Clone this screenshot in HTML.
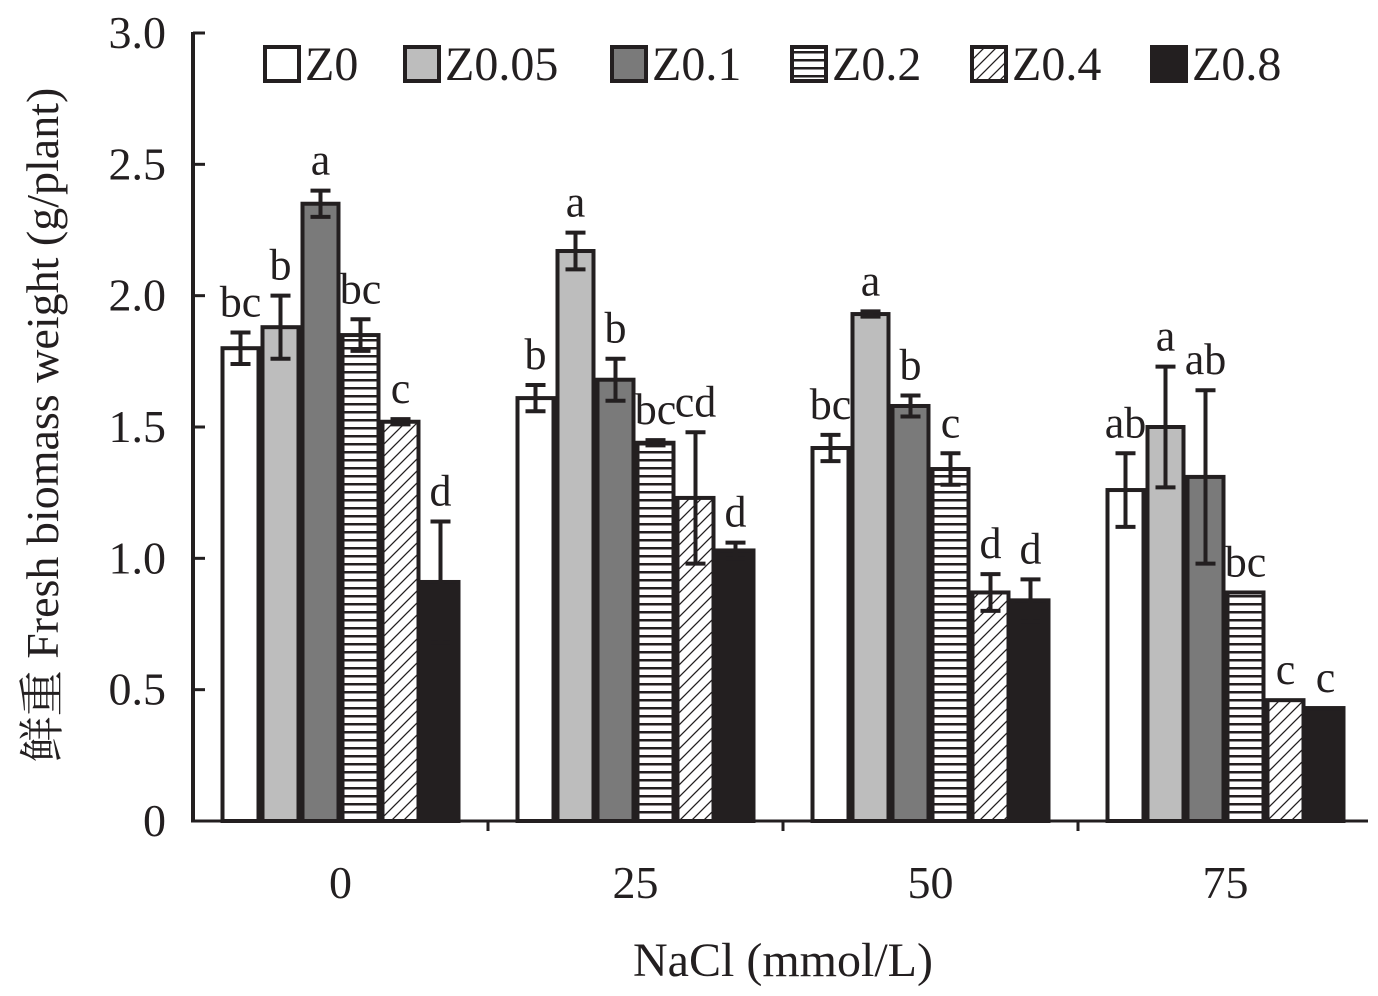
<!DOCTYPE html>
<html><head><meta charset="utf-8"><style>
body{margin:0;background:#fff}
svg{display:block;font-family:"Liberation Serif","Noto Serif CJK SC",serif}
</style></head><body>
<svg id="chart" width="1378" height="996">
<defs>
<pattern id="hlines" width="8" height="8" patternUnits="userSpaceOnUse"><rect width="8" height="8" fill="#fff"/><rect y="3" width="8" height="2.5" fill="#231f20"/></pattern>
<pattern id="diag" width="12" height="12" patternUnits="userSpaceOnUse"><rect width="12" height="12" fill="#fff"/><path d="M-3,3 L3,-3 M0,12 L12,0 M9,15 L15,9" stroke="#231f20" stroke-width="1.3"/></pattern>
</defs>
<g id="plot"></g>
</svg>
<script>
const categories=["0","25","50","75"];
const series=["Z0","Z0.05","Z0.1","Z0.2","Z0.4","Z0.8"];
const v0=[1.80,1.88,2.35,1.85,1.52,0.91];
const v25=[1.61,2.17,1.68,1.44,1.23,1.03];
const v50=[1.42,1.93,1.58,1.34,0.87,0.84];
const v75=[1.26,1.50,1.31,0.87,0.46,0.43];
const e0=[0.06,0.12,0.05,0.06,0.01,0.23];
const e25=[0.05,0.07,0.08,0.01,0.25,0.03];
const e50=[0.05,0.01,0.04,0.06,0.07,0.08];
const e75=[0.14,0.23,0.33,0,0,0];
const l0=["bc","b","a","bc","c","d"];
const l25=["b","a","b","bc","cd","d"];
const l50=["bc","a","b","c","d","d"];
const l75=["ab","a","ab","bc","c","c"];
const yTicks=[0,0.5,1.0,1.5,2.0,2.5,3.0];
const yTickLabels=["0","0.5","1.0","1.5","2.0","2.5","3.0"];
const values=[v0,v25,v50,v75],errs=[e0,e25,e50,e75],letters=[l0,l25,l50,l75];
const fills=["#fff","#bdbdbd","#7a7a7a","url(#hlines)","url(#diag)","#231f20"];
const X0=193,Y0=821,Ytop=33,GW=295,BW=40;
const y=v=>Y0-(v/3)*(Y0-Ytop);
const gx=i=>X0+GW*i+GW/2;
const bx=(i,j)=>gx(i)-3*BW+j*BW;
const g=document.getElementById('plot');
const NS="http://www.w3.org/2000/svg";
function mk(t,a,txt){const e=document.createElementNS(NS,t);for(const k in a)e.setAttribute(k,a[k]);if(txt!==undefined)e.textContent=txt;g.appendChild(e);return e;}
const C="#231f20";
categories.forEach((c,i)=>{
 series.forEach((s,j)=>{
  const v=values[i][j],e=errs[i][j],x=bx(i,j);
  const r=mk('rect',{x:x+2,y:y(v),width:BW-4,height:Y0-y(v),fill:fills[j],stroke:C,'stroke-width':4});
  
  
  const cx=x+BW/2;
  if(e>0){
   const eb=mk('path',{d:`M${cx},${y(v+e)}V${y(v-e)}M${cx-10},${y(v+e)}H${cx+10}M${cx-10},${y(v-e)}H${cx+10}`,stroke:C,'stroke-width':4,fill:'none'});
   
   
  }
  const t=mk('text',{x:cx,y:y(v+e)-16,'text-anchor':'middle','font-size':44,fill:C},letters[i][j]);
  
  
 });
 const tl=mk('text',{x:gx(i),y:898,'text-anchor':'middle','font-size':46,fill:C},c);
 
 
 if(i>0){const tk=mk('line',{x1:X0+GW*i,x2:X0+GW*i,y1:Y0,y2:Y0+10,stroke:C,'stroke-width':3});
 
 }
});
yTicks.forEach((t,k)=>{
 const tk=mk('line',{x1:X0,x2:X0+12,y1:y(t),y2:y(t),stroke:C,'stroke-width':3});
 
 
 const tl=mk('text',{x:166,y:y(t)+15,'text-anchor':'end','font-size':46,fill:C},yTickLabels[k]);
 
 
});
const ya=mk('line',{x1:X0,x2:X0,y1:Ytop-1,y2:Y0+1.5,stroke:C,'stroke-width':4});


const xa=mk('line',{x1:X0-2,x2:1368,y1:Y0,y2:Y0,stroke:C,'stroke-width':3});


const xt=mk('text',{x:783,y:976,'text-anchor':'middle','font-size':48,fill:C},'NaCl (mmol/L)');


const yt=mk('text',{x:0,y:0,transform:'translate(58,425) rotate(-90)','text-anchor':'middle','font-size':46,fill:C},'鲜重 Fresh biomass weight (g/plant)');


const legX=[265,405,612,792,972,1152];
series.forEach((s,j)=>{
 const b=mk('rect',{x:legX[j],y:47,width:34,height:34,fill:fills[j],stroke:C,'stroke-width':4});
 
 
 const t=mk('text',{x:legX[j]+40,y:80,'font-size':48,fill:C},s);
 
 
});
</script>
</body></html>
